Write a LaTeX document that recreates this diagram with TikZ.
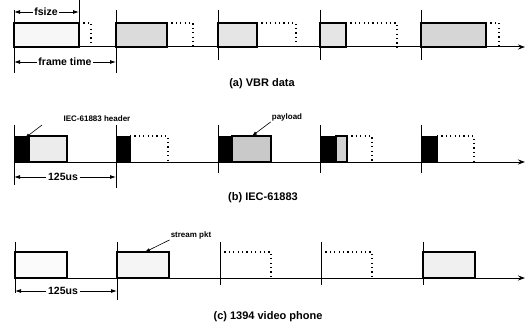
\documentclass[tikz,border=0pt]{standalone}
\usepackage{fontspec}
\setmainfont{Liberation Sans}
\usetikzlibrary{arrows.meta}
\begin{document}
\begin{tikzpicture}[x=1pt,y=-1pt,
 tickl/.style={line width=0.6pt},
 axis/.style={line width=1pt,-{Stealth[length=7pt,width=5pt]}},
 pkt/.style={draw, line width=1.4pt},
 maxb/.style={draw, line width=1.2pt, dash pattern=on 1.2pt off 3.2pt},
 hdr/.style={fill=black, draw, line width=1pt},
 lbl/.style={font=\bfseries\fontsize{8}{9}\selectfont, inner sep=1pt},
 dimlbl/.style={font=\bfseries\fontsize{10.5}{11}\selectfont, inner sep=1.5pt},
 captxt/.style={font=\bfseries\fontsize{11}{12}\selectfont},
 dimar/.style={-{Latex[length=6pt,width=4pt]}, line width=0.8pt},
 lead/.style={-{Latex[length=5pt,width=3.5pt]}, line width=0.6pt}]
\useasboundingbox (0,0) rectangle (529,326);

% ---------------- (a) VBR data ----------------
\foreach \x/\s/\e/\f in {14/79/91/6, 116/167/193/28, 218/257/296/20, 320/346/397/20, 421/486/499/32}{
  \draw[maxb] (\s,23) -- (\e,23) -- (\e,47);
  \draw[pkt, fill=gray!\f] (\x,47) rectangle (\s,23);
}
\foreach \x in {218,320,421} \draw[tickl] (\x,10) -- (\x,60);
\coordinate (a0t) at (14,10); \coordinate (a0b) at (14,73);
\coordinate (a1t) at (116,10); \coordinate (a1b) at (116,73);
\coordinate (fst) at (79,0); \coordinate (fsb) at (79,23);
\draw[tickl] (a0t) -- (a0b);
\draw[tickl] (a1t) -- (a1b);
\draw[tickl] (fst) -- (fsb);
\coordinate (axa0) at (14,47); \coordinate (axa1) at (525,47);
\draw[axis] (axa0) -- (axa1);
\node[dimlbl] (fsize) at (46,12) {fsize};
\coordinate (fsl) at (14,12); \coordinate (fsr) at (79,12);
\draw[dimar] (fsize.west) -- (fsl);
\draw[dimar] (fsize.east) -- (fsr);
\node[dimlbl] (ftime) at (65,62) {frame time};
\coordinate (ftl) at (14,62); \coordinate (ftr) at (116,62);
\draw[dimar] (ftime.west) -- (ftl);
\draw[dimar] (ftime.east) -- (ftr);
\node[captxt] (capa) at (262,84) {(a) VBR data};

% ---------------- (b) IEC-61883 ----------------
\draw[pkt, fill=gray!15] (29,162) rectangle (67,136);
\draw[hdr] (14,162) rectangle (29,136);
\draw[maxb] (130,136) -- (168,136) -- (168,162);
\draw[hdr] (116,162) rectangle (130,136);
\draw[pkt, fill=gray!42] (232,162) rectangle (271,136);
\draw[hdr] (218,162) rectangle (232,136);
\draw[maxb] (347,136) -- (372,136) -- (372,162);
\draw[pkt, fill=gray!35] (336,162) rectangle (347,136);
\draw[hdr] (320,162) rectangle (336,136);
\draw[maxb] (437,136) -- (474,136) -- (474,162);
\draw[hdr] (421,162) rectangle (437,136);
\foreach \x in {218,320,421} \draw[tickl] (\x,125) -- (\x,173);
\coordinate (b0t) at (14,125); \coordinate (b0b) at (14,185);
\coordinate (b1t) at (116,125); \coordinate (b1b) at (116,188);
\draw[tickl] (b0t) -- (b0b);
\draw[tickl] (b1t) -- (b1b);
\coordinate (axb0) at (14,162); \coordinate (axb1) at (525,162);
\draw[axis] (axb0) -- (axb1);
\node[lbl] (hdrlbl) at (97,119) {IEC-61883 header};
\coordinate (hdrpt) at (25,138);
\coordinate (hdrst) at (42,125);
\draw[lead] (hdrst) -- (hdrpt);
\node[lbl] (paylbl) at (287,117) {payload};
\coordinate (paypt) at (252,136);
\draw[lead] (paylbl.south west) -- (paypt);
\node[dimlbl] (usb) at (63,177) {125us};
\coordinate (ubl) at (14,177); \coordinate (ubr) at (116,177);
\draw[dimar] (usb.west) -- (ubl);
\draw[dimar] (usb.east) -- (ubr);
\node[captxt] (capb) at (263,198) {(b) IEC-61883};

% ---------------- (c) 1394 video phone ----------------
\draw[pkt, fill=gray!3] (15,278) rectangle (67,252);
\draw[pkt, fill=gray!8] (117,278) rectangle (169,252);
\draw[maxb] (220,252) -- (271,252) -- (271,278);
\draw[maxb] (321,252) -- (372,252) -- (372,278);
\draw[pkt, fill=gray!12] (423,278) rectangle (475,252);
\foreach \x in {220,321,423} \draw[tickl] (\x,242) -- (\x,285);
\coordinate (c0t) at (15,242); \coordinate (c0b) at (15,293);
\coordinate (c1t) at (117,242); \coordinate (c1b) at (117,300);
\draw[tickl] (c0t) -- (c0b);
\draw[tickl] (c1t) -- (c1b);
\coordinate (axc0) at (15,278); \coordinate (axc1) at (525,278);
\draw[axis] (axc0) -- (axc1);
\node[lbl] (strlbl) at (191,235) {stream pkt};
\coordinate (strpt) at (145,252);
\draw[lead] (strlbl.south west) -- (strpt);
\node[dimlbl] (usc) at (63,291) {125us};
\coordinate (ucl) at (15,291); \coordinate (ucr) at (117,291);
\draw[dimar] (usc.west) -- (ucl);
\draw[dimar] (usc.east) -- (ucr);
\node[captxt] (capc) at (268,317) {(c) 1394 video phone};
\end{tikzpicture}
\end{document}
